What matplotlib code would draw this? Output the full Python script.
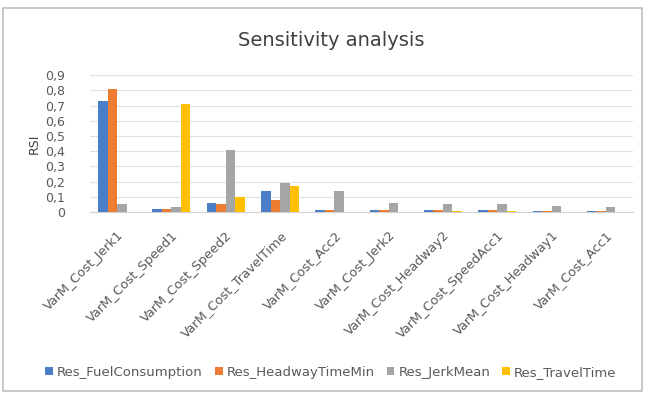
import matplotlib.pyplot as plt
import numpy as np

categories = ["VarM_Cost_Jerk1", "VarM_Cost_Speed1", "VarM_Cost_Speed2",
              "VarM_Cost_TravelTime", "VarM_Cost_Acc2", "VarM_Cost_Jerk2",
              "VarM_Cost_Headway2", "VarM_Cost_SpeedAcc1", "VarM_Cost_Headway1",
              "VarM_Cost_Acc1"]
series_names = ["Res_FuelConsumption", "Res_HeadwayTimeMin", "Res_JerkMean", "Res_TravelTime"]
fuel = [0.73, 0.02, 0.06, 0.14, 0.01, 0.01, 0.01, 0.01, 0.005, 0.005]
headway = [0.81, 0.02, 0.05, 0.08, 0.01, 0.01, 0.01, 0.01, 0.005, 0.005]
jerk = [0.05, 0.03, 0.41, 0.19, 0.14, 0.06, 0.05, 0.05, 0.04, 0.03]
travel = [0.0, 0.71, 0.10, 0.17, 0.0, 0.0, 0.005, 0.005, 0.0, 0.0]
yticks = [0, 0.1, 0.2, 0.3, 0.4, 0.5, 0.6, 0.7, 0.8, 0.9]

colors = ["#4A7EC7", "#ED7D31", "#A5A5A5", "#FFC000"]
values = [fuel, headway, jerk, travel]

fig = plt.figure(figsize=(6.45, 3.93), dpi=100)
fig.patches.append(plt.Rectangle((0.005, 0.005), 0.99, 0.975, transform=fig.transFigure,
                                 fill=False, edgecolor="#BFBFBF", linewidth=1.2))
ax = fig.add_axes([0.1395, 0.4606, 0.842, 0.348])

x = np.arange(len(categories))
w = 0.175
for k, (vals, c, name) in enumerate(zip(values, colors, series_names)):
    ax.bar(x + (k - 1.5) * w, vals, width=w, color=c, label=name, zorder=3)

ax.set_xlim(-0.5, len(categories) - 0.5)
ax.set_ylim(0, 0.9)
ax.set_yticks(yticks)
ax.set_yticklabels([str(t).replace(".", ",") if t else "0" for t in yticks],
                   fontsize=9, color="#595959")
ax.grid(axis="y", color="#E0E0E0", linewidth=0.8, zorder=0)
ax.set_xticks(x)
ax.set_xticklabels(categories, rotation=45, ha="right", rotation_mode="anchor",
                   fontsize=9.3, color="#595959")
ax.tick_params(axis="x", length=0, pad=12)
ax.tick_params(axis="y", length=0, pad=18)
for s in ["top", "right", "left"]:
    ax.spines[s].set_visible(False)
ax.spines["bottom"].set_color("#D0D0D0")
ax.set_ylabel("RSI", fontsize=9, color="#404040")
ax.yaxis.set_label_coords(-0.09, 0.5)

fig.text(0.513, 0.898, "Sensitivity analysis", ha="center", va="center",
         fontsize=14, color="#404040")
fig.legend(loc="center", bbox_to_anchor=(0.513, 0.053), ncol=4, frameon=False,
           fontsize=9.5, handlelength=0.6, handleheight=0.6, handletextpad=0.3,
           columnspacing=0.9, labelcolor="#595959")

fig.savefig("out.png", dpi=100)
